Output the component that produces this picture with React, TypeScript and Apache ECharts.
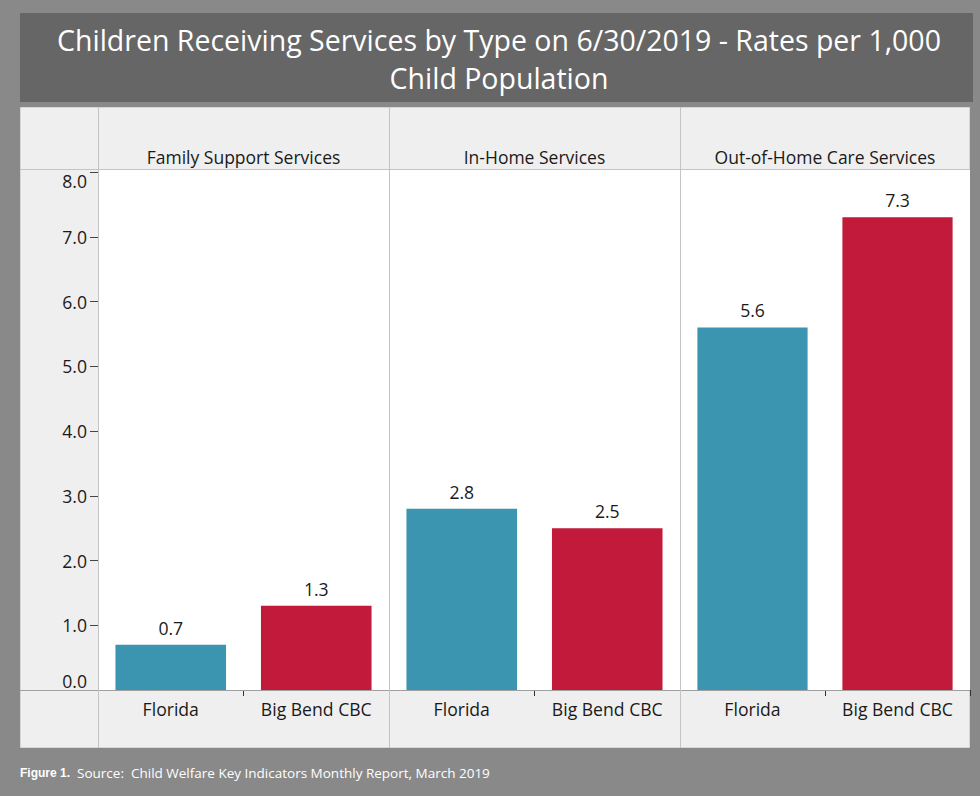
import React, { useEffect, useRef } from "react";
import * as echarts from "echarts";

const titleLines = ["Children Receiving Services by Type on 6/30/2019 - Rates per 1,000", "Child Population"];
const facets = ["Family Support Services", "In-Home Services", "Out-of-Home Care Services"];
const categories = ["Florida", "Big Bend CBC"];
const floridaValues = [0.7, 2.8, 5.6];
const bigBendValues = [1.3, 2.5, 7.3];
const barColors = ["#3b95b1", "#c11a3b"];
const footerBold = "Figure 1.";
const footerText = "Source:  Child Welfare Key Indicators Monthly Report, March 2019";

const FONT = "Open Sans";

export default function App() {
  const ref = useRef<HTMLDivElement>(null);
  useEffect(() => {
    document.body.style.margin = "0";
    const chart = echarts.init(ref.current!, null, { renderer: "svg" });
    const gridLefts = [98, 389, 680];
    const gridWidths = [291, 291, 290];
    const top = 172;
    const plotH = 518;

    const grids = gridLefts.map((l, i) => ({ left: l, top, width: gridWidths[i], height: plotH }));
    const xAxes = gridLefts.map((_, i) => ({
      type: "category",
      gridIndex: i,
      data: categories,
      axisLine: { show: false },
      axisTick: { show: true, length: 6, lineStyle: { color: "#333" } },
      axisLabel: { color: "#1a1a1a", fontFamily: FONT, fontSize: 17.6, margin: 10 },
    }));
    const yAxes = gridLefts.map((_, i) => ({
      type: "value",
      gridIndex: i,
      min: 0,
      max: 8,
      interval: 1,
      show: i === 0,
      splitLine: { show: false },
      axisLine: { show: false },
      axisTick: { show: true, length: 8, lineStyle: { color: "#444" } },
      axisLabel: {
        color: "#1a1a1a",
        fontFamily: FONT,
        fontSize: 17.6,
        margin: 11,
        formatter: (v: number) => v.toFixed(1),
        verticalAlignMaxLabel: "top",
        verticalAlignMinLabel: "bottom",
      },
    }));
    const series = facets.map((_, i) => ({
      type: "bar",
      xAxisIndex: i,
      yAxisIndex: i,
      barWidth: "76%",
      data: [floridaValues[i], bigBendValues[i]].map((v, j) => ({
        value: v,
        itemStyle: { color: barColors[j] },
      })),
      label: {
        show: true,
        position: "top",
        distance: 8,
        color: "#1a1a1a",
        fontFamily: FONT,
        fontSize: 17.6,
        formatter: (p: any) => Number(p.value).toFixed(1),
      },
    }));

    const sepLine = (x1: number, y1: number, x2: number, y2: number, color: string) => ({
      type: "line",
      z: 100,
      shape: { x1, y1, x2, y2 },
      style: { stroke: color, lineWidth: 1 },
    });

    const graphic: any[] = [
      { type: "rect", z: -10, shape: { x: 20, y: 13, width: 953, height: 89 }, style: { fill: "#666666" } },
      {
        type: "text",
        z: 10,
        x: 499,
        y: 59,
        style: {
          text: titleLines.join("\n"),
          fill: "#ffffff",
          font: `28.5px "${FONT}"`,
          lineHeight: 38,
          align: "center",
          verticalAlign: "middle",
        },
      },
      { type: "rect", z: -10, shape: { x: 20.5, y: 107.5, width: 949, height: 640 }, style: { fill: "#efefef", stroke: "#d6d6d6", lineWidth: 1 } },
      { type: "rect", z: -9, shape: { x: 98, y: 169, width: 872, height: 521 }, style: { fill: "#ffffff" } },
      sepLine(20, 169.5, 970, 169.5, "#c4c4c4"),
      sepLine(20, 690.5, 970, 690.5, "#a0a0a0"),
      ...gridLefts.map((l) => sepLine(l + 0.5, 107, l + 0.5, 748, "#c4c4c4")),
      ...facets.map((f, i) => ({
        type: "text",
        z: 10,
        x: gridLefts[i] + gridWidths[i] / 2,
        y: 157,
        style: { text: f, fill: "#1a1a1a", font: `17.5px "${FONT}"`, align: "center", verticalAlign: "middle" },
      })),
      {
        type: "text",
        z: 10,
        x: 20,
        y: 773,
        style: {
          text: `{b|${footerBold}}  ${footerText}`,
          fill: "#ffffff",
          font: `13.5px "${FONT}"`,
          verticalAlign: "middle",
          rich: { b: { fontWeight: "bold", fill: "#ffffff", font: `bold 13.5px "${FONT}"` } },
        },
      },
    ];

    chart.setOption({
      animation: false,
      backgroundColor: "#898989",
      grid: grids,
      xAxis: xAxes,
      yAxis: yAxes,
      series,
      graphic,
    } as any);
    return () => chart.dispose();
  }, []);
  return <div ref={ref} style={{ width: 980, height: 796 }} />;
}
